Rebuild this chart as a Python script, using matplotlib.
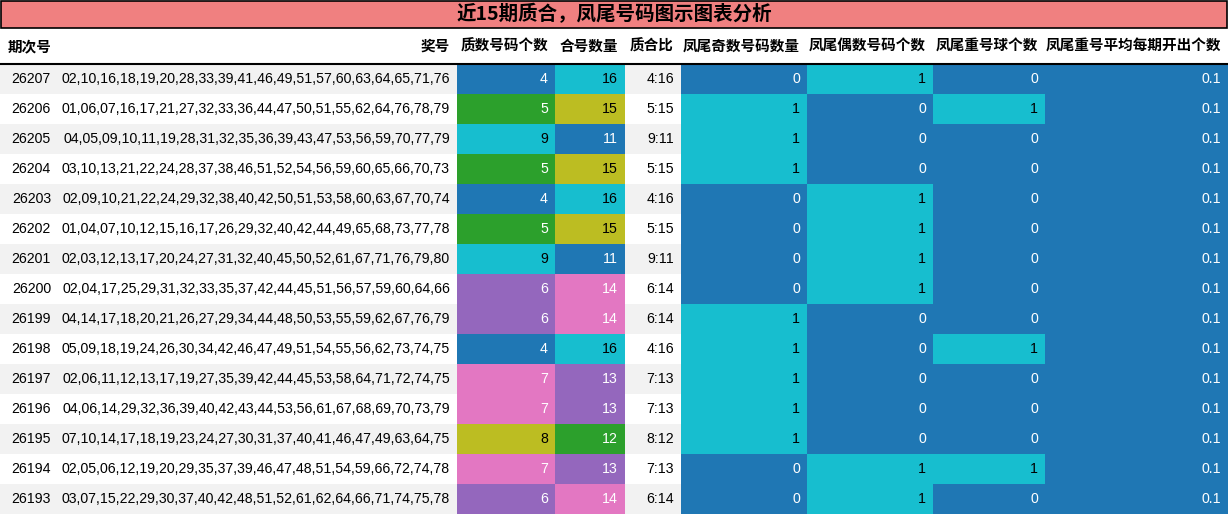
import matplotlib.pyplot as plt
from matplotlib.patches import Rectangle

plt.rcParams["font.family"] = ["Liberation Sans", "Noto Sans CJK SC", "DejaVu Sans"]

title = "近15期质合，凤尾号码图示图表分析"
headers = ["期次号", "奖号", "质数号码个数", "合号数量", "质合比",
           "凤尾奇数号码数量", "凤尾偶数号码个数", "凤尾重号球个数", "凤尾重号平均每期开出个数"]
issues = [26207, 26206, 26205, 26204, 26203, 26202, 26201, 26200, 26199, 26198,
          26197, 26196, 26195, 26194, 26193]
numbers = [
    "02,10,16,18,19,20,28,33,39,41,46,49,51,57,60,63,64,65,71,76",
    "01,06,07,16,17,21,27,32,33,36,44,47,50,51,55,62,64,76,78,79",
    "04,05,09,10,11,19,28,31,32,35,36,39,43,47,53,56,59,70,77,79",
    "03,10,13,21,22,24,28,37,38,46,51,52,54,56,59,60,65,66,70,73",
    "02,09,10,21,22,24,29,32,38,40,42,50,51,53,58,60,63,67,70,74",
    "01,04,07,10,12,15,16,17,26,29,32,40,42,44,49,65,68,73,77,78",
    "02,03,12,13,17,20,24,27,31,32,40,45,50,52,61,67,71,76,79,80",
    "02,04,17,25,29,31,32,33,35,37,42,44,45,51,56,57,59,60,64,66",
    "04,14,17,18,20,21,26,27,29,34,44,48,50,53,55,59,62,67,76,79",
    "05,09,18,19,24,26,30,34,42,46,47,49,51,54,55,56,62,73,74,75",
    "02,06,11,12,13,17,19,27,35,39,42,44,45,53,58,64,71,72,74,75",
    "04,06,14,29,32,36,39,40,42,43,44,53,56,61,67,68,69,70,73,79",
    "07,10,14,17,18,19,23,24,27,30,31,37,40,41,46,47,49,63,64,75",
    "02,05,06,12,19,20,29,35,37,39,46,47,48,51,54,59,66,72,74,78",
    "03,07,15,22,29,30,37,40,42,48,51,52,61,62,64,66,71,74,75,78",
]
prime_cnt = [4, 5, 9, 5, 4, 5, 9, 6, 6, 4, 7, 7, 8, 7, 6]
odd_tail = [0, 1, 1, 1, 0, 0, 0, 0, 1, 1, 1, 1, 1, 0, 0]
even_tail = [1, 0, 0, 0, 1, 1, 1, 1, 0, 0, 0, 0, 0, 1, 1]
repeat_tail = [0, 1, 0, 0, 0, 0, 0, 0, 0, 1, 0, 0, 0, 1, 0]
avg_repeat = [0.1] * 15

BLUE, CYAN, GREEN, OLIVE, PURPLE, PINK = "#1f77b4", "#17becf", "#2ca02c", "#bcbd22", "#9467bd", "#e377c2"
prime_colors = {4: BLUE, 5: GREEN, 6: PURPLE, 7: PINK, 8: OLIVE, 9: CYAN}
comp_colors = {16: CYAN, 15: OLIVE, 14: PINK, 13: PURPLE, 12: GREEN, 11: BLUE}
bin_colors = {0: BLUE, 1: CYAN}

edges = [0, 58, 457, 555, 625, 681, 807, 933, 1045, 1228]
W, H = 1228, 515
row_h = 30
top = 64

fig = plt.figure(figsize=(12.28, 5.15), dpi=100)
ax = fig.add_axes([0, 0, 1, 1])
ax.set_xlim(0, W)
ax.set_ylim(H, 0)
ax.axis("off")

# title bar
ax.add_patch(Rectangle((0.5, 0.5), W - 1.5, 27, facecolor="#f08080", edgecolor="black", lw=1.2))
ax.text(W / 2, 14.5, title, ha="center", va="center", fontsize=14, fontweight="bold",
        family=["Noto Sans CJK SC"])

# header
for i, h in enumerate(headers):
    if i == 0:
        ax.text(edges[0] + 8, 46, h, ha="left", va="center", fontsize=10.5, fontweight="bold",
                family=["Noto Sans CJK SC"])
    else:
        ax.text(edges[i + 1] - 7, 46, h, ha="right", va="center", fontsize=10.5, fontweight="bold",
                family=["Noto Sans CJK SC"])
ax.plot([0, W], [64, 64], color="black", lw=1.5)


def cell(col, r, text, color=None):
    y0 = top + r * row_h
    if color is not None:
        ax.add_patch(Rectangle((edges[col], y0), edges[col + 1] - edges[col], row_h,
                               facecolor=color, edgecolor="none"))
        tc = "black" if color in (CYAN, OLIVE) else "white"
    else:
        tc = "black"
    ax.text(edges[col + 1] - 7, y0 + row_h / 2, text, ha="right", va="center",
            fontsize=10.2, color=tc)


for r in range(len(issues)):
    y0 = top + r * row_h
    if r % 2 == 0:
        ax.add_patch(Rectangle((0, y0), W, row_h, facecolor="#f2f2f2", edgecolor="none"))
    cell(0, r, str(issues[r]))
    cell(1, r, numbers[r])
    p = prime_cnt[r]
    c = 20 - p
    cell(2, r, str(p), prime_colors[p])
    cell(3, r, str(c), comp_colors[c])
    cell(4, r, f"{p}:{c}")
    cell(5, r, str(odd_tail[r]), bin_colors[odd_tail[r]])
    cell(6, r, str(even_tail[r]), bin_colors[even_tail[r]])
    cell(7, r, str(repeat_tail[r]), bin_colors[repeat_tail[r]])
    cell(8, r, f"{avg_repeat[r]:.1f}", BLUE)

fig.savefig("out.png", dpi=100)
